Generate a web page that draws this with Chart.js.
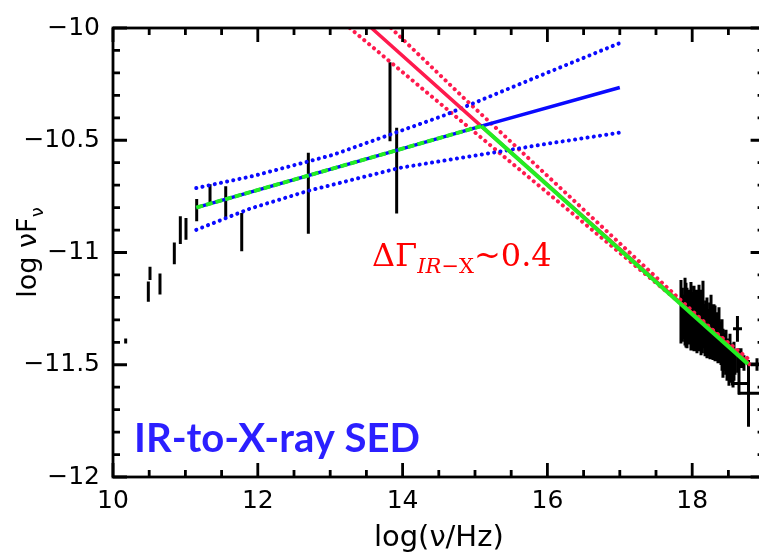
<!DOCTYPE html>
<html><head><meta charset="utf-8">
<script src="https://cdn.jsdelivr.net/npm/chart.js@4"></script>
<style>
html,body{margin:0;padding:0;background:#fff;overflow:hidden;}
#wrap{position:relative;width:770px;height:557px;}
</style></head>
<body><div id="wrap"><canvas id="c" width="770" height="557" style="width:770px;height:557px"></canvas></div>
<script>
// ---- axis ticks ----
const xTickValues = [10, 12, 14, 16, 18];
const xTickLabels = ['10', '12', '14', '16', '18'];
const yTickValues = [-12, -11.5, -11, -10.5, -10];
const yTickLabels = ['\u221212', '\u221211.5', '\u221211', '\u221210.5', '\u221210'];
const xTitle = 'log(\u03BD/Hz)';
const yTitleMain = 'log \u03BDF';
const yTitleSub = '\u03BD';

// ---- IR / optical photometry (vertical error bars) ----
const irX  = [10.175, 10.488, 10.511, 10.649, 10.847, 10.930, 11.008, 11.156, 11.340, 11.557, 11.778, 12.698, 13.826, 13.918];
const irLo = [-11.405, -11.219, -11.122, -11.187, -11.052, -10.962, -10.943, -10.861, -10.781, -10.842, -10.994, -10.917, -10.505, -10.826];
const irHi = [-11.383, -11.129, -11.064, -11.093, -10.955, -10.839, -10.846, -10.762, -10.696, -10.705, -10.824, -10.556, -10.153, -10.444];

// ---- X-ray spectrum (vertical error bars) ----
const xrX  = [17.845, 17.859, 17.873, 17.901, 17.914, 17.928, 17.956, 17.969, 17.983, 18.011,
              18.025, 18.039, 18.066, 18.080, 18.094, 18.122, 18.135, 18.149, 18.177, 18.191,
              18.204, 18.232, 18.246, 18.260, 18.287, 18.301, 18.315, 18.343, 18.356, 18.370,
              18.398, 18.412, 18.425, 18.453, 18.467, 18.481, 18.508, 18.522, 18.536, 18.564,
              18.577, 18.591, 18.633, 18.674, 18.715,
              18.560, 18.625, 18.646, 18.778, 18.895];
const xrLo = [-11.405, -11.397, -11.383, -11.414, -11.423, -11.427, -11.397, -11.410, -11.436, -11.431,
              -11.440, -11.414, -11.449, -11.431, -11.440, -11.458, -11.449, -11.427, -11.462, -11.458,
              -11.471, -11.458, -11.475, -11.475, -11.479, -11.466, -11.484, -11.471, -11.493, -11.493,
              -11.501, -11.527, -11.558, -11.527, -11.545, -11.571, -11.593, -11.580, -11.566, -11.601,
              -11.571, -11.545, -11.536, -11.514, -11.527,
              -11.594, -11.397, -11.632, -11.776, -11.527];
const xrHi = [-11.122, -11.157, -11.188, -11.113, -11.135, -11.157, -11.210, -11.166, -11.131, -11.179,
              -11.148, -11.231, -11.166, -11.188, -11.144, -11.201, -11.166, -11.126, -11.231, -11.214,
              -11.201, -11.253, -11.223, -11.188, -11.244, -11.231, -11.236, -11.275, -11.266, -11.244,
              -11.309, -11.297, -11.340, -11.362, -11.344, -11.392, -11.383, -11.362, -11.427, -11.405,
              -11.397, -11.449, -11.427, -11.427, -11.458,
              -11.522, -11.283, -11.493, -11.479, -11.471];
// ---- X-ray bins with horizontal error bars ----
const xrhY  = [-11.340, -11.584, -11.627, -11.497];
const xrhLo = [18.564, 18.536, 18.633, 18.757];
const xrhHi = [18.688, 18.771, 19.070, 19.070];

// ---- model lines ----
const blueFitX = [11.15, 15.086, 17.0];
const blueFitY = [-10.80, -10.437, -10.265];
const blueUpX  = [11.15, 11.94, 13.04, 14.56, 16.03, 17.0];
const blueUpY  = [-10.713, -10.659, -10.565, -10.391, -10.195, -10.067];
const blueLoX  = [11.15, 11.89, 12.70, 13.96, 16.03, 17.0];
const blueLoY  = [-10.899, -10.805, -10.725, -10.623, -10.514, -10.466];
const redFitX  = [13.57, 15.086, 18.77];
const redFitY  = [-10.0, -10.437, -11.49];
const redLeftX = [13.27, 14.42, 18.30, 18.80];
const redLeftY = [-10.0, -10.31, -11.35, -11.48];
const redRightX = [13.84, 14.84, 18.30, 18.80];
const redRightY = [-10.0, -10.31, -11.35, -11.50];
const greenX = [11.15, 15.086, 18.77];
const greenY = [-10.80, -10.437, -11.497];

// ---- helpers ----
const pts = (xs, ys) => xs.map((x, i) => ({x: x, y: ys[i]}));
function vBars(xs, lo, hi) {
  const out = [];
  xs.forEach((x, i) => { out.push({x: x, y: lo[i]}, {x: x, y: hi[i]}, {x: x, y: null}); });
  return out;
}
function hBars(ys, lo, hi) {
  const out = [];
  ys.forEach((y, i) => { out.push({x: lo[i], y: y}, {x: hi[i], y: y}, {x: hi[i], y: null}); });
  return out;
}

const RED = '#ff1a4d', BLUE = '#0a0aff', GREEN = '#22ee22';
const dotted = {borderWidth: 4, borderDash: [0.1, 6.2], borderCapStyle: 'round'};
const base = {pointRadius: 0, tension: 0, clip: 0, spanGaps: false, fill: false};

const datasets = [
  Object.assign({}, base, {label: 'green', data: pts(greenX, greenY), borderColor: GREEN, borderWidth: 4,
    segment: {borderDash: c => c.p0DataIndex === 0 ? [7, 3] : undefined}, order: 0}),
  Object.assign({}, base, {label: 'blue fit', data: pts(blueFitX, blueFitY), borderColor: BLUE, borderWidth: 3.5, order: 1}),
  Object.assign({}, base, {label: 'red fit', data: pts(redFitX, redFitY), borderColor: RED, borderWidth: 3.5, order: 1}),
  Object.assign({}, base, dotted, {label: 'blue up', data: pts(blueUpX, blueUpY), borderColor: BLUE, order: 2}),
  Object.assign({}, base, dotted, {label: 'blue lo', data: pts(blueLoX, blueLoY), borderColor: BLUE, order: 2}),
  Object.assign({}, base, dotted, {label: 'red left', data: pts(redLeftX, redLeftY), borderColor: RED, order: 2}),
  Object.assign({}, base, dotted, {label: 'red right', data: pts(redRightX, redRightY), borderColor: RED, order: 2}),
  Object.assign({}, base, {label: 'IR', data: vBars(irX, irLo, irHi), borderColor: '#000', borderWidth: 3, order: 3}),
  Object.assign({}, base, {label: 'X-ray', data: vBars(xrX, xrLo, xrHi), borderColor: '#000', borderWidth: 3, order: 3}),
  Object.assign({}, base, {label: 'X-ray bins', data: hBars(xrhY, xrhLo, xrhHi), borderColor: '#000', borderWidth: 3, order: 3})
];

const framePlugin = {
  id: 'frame',
  afterDraw(chart) {
    const ctx = chart.ctx, a = chart.chartArea, x = chart.scales.x, y = chart.scales.y;
    ctx.save();
    ctx.strokeStyle = '#000';
    ctx.lineWidth = 2.8;
    ctx.lineCap = 'butt';
    ctx.beginPath();
    for (let k = 0; k <= 18; k++) {
      const v = x.min + k * 0.5;
      const px = x.getPixelForValue(v);
      const len = (k % 4 === 0) ? 14 : 7;
      ctx.moveTo(px, a.bottom); ctx.lineTo(px, a.bottom - len);
      ctx.moveTo(px, a.top); ctx.lineTo(px, a.top + len);
    }
    for (let k = 0; k <= 20; k++) {
      const v = y.min + k * 0.1;
      const py = y.getPixelForValue(v);
      const len = (k % 5 === 0) ? 14 : 7;
      ctx.moveTo(a.left, py); ctx.lineTo(a.left + len, py);
      ctx.moveTo(a.right, py); ctx.lineTo(a.right - len, py);
    }
    ctx.stroke();
    ctx.strokeRect(a.left, a.top, a.right - a.left, a.bottom - a.top);
    ctx.restore();

    // y title with subscript
    ctx.save();
    ctx.fillStyle = '#000';
    ctx.translate(36, (a.top + a.bottom) / 2);
    ctx.rotate(-Math.PI / 2);
    const f1 = '27px "DejaVu Sans"', f2 = '18px "DejaVu Sans"';
    ctx.font = f1; const w1 = ctx.measureText(yTitleMain).width;
    ctx.font = f2; const w2 = ctx.measureText(yTitleSub).width;
    const sx = -(w1 + w2) / 2;
    ctx.textAlign = 'left'; ctx.textBaseline = 'alphabetic';
    ctx.font = f1; ctx.fillText(yTitleMain, sx, 0);
    ctx.font = f2; ctx.fillText(yTitleSub, sx + w1, 7);
    ctx.restore();

    // x title
    ctx.save();
    ctx.fillStyle = '#000';
    ctx.font = '29px "DejaVu Sans"';
    ctx.textAlign = 'center'; ctx.textBaseline = 'alphabetic';
    ctx.fillText(xTitle, (a.left + a.right) / 2, 546);
    ctx.restore();

    // red annotation
    ctx.save();
    ctx.fillStyle = '#ff0000';
    ctx.textAlign = 'left'; ctx.textBaseline = 'alphabetic';
    let cx = 372;
    ctx.font = '32px "DejaVu Serif"';
    ctx.fillText('\u0394\u0393', cx, 266); cx += ctx.measureText('\u0394\u0393').width;
    ctx.font = 'italic 21px "DejaVu Serif"';
    ctx.fillText('IR', cx, 273); cx += ctx.measureText('IR').width;
    ctx.font = '21px "DejaVu Serif"';
    ctx.fillText('\u2212X', cx, 273); cx += ctx.measureText('\u2212X').width;
    ctx.font = '32px "DejaVu Serif"';
    ctx.fillText('~0.4', cx, 266);
    ctx.restore();

    // blue label
    ctx.save();
    ctx.fillStyle = '#2b1fff';
    ctx.font = 'bold 40px Lato';
    ctx.textAlign = 'left'; ctx.textBaseline = 'alphabetic';
    const t = 'IR-to-X-ray SED';
    const tw = ctx.measureText(t).width;
    const sc = Math.min(1.1, Math.max(0.9, 286 / tw));
    ctx.translate(134, 452);
    ctx.scale(sc, 1);
    ctx.fillText(t, 0, 0);
    ctx.restore();
  }
};

new Chart(document.getElementById('c'), {
  type: 'line',
  data: {datasets: datasets},
  options: {
    responsive: false,
    animation: false,
    events: [],
    layout: {padding: {top: 17.5, right: 5.4, left: 0, bottom: 0}},
    plugins: {legend: {display: false}, tooltip: {enabled: false}},
    scales: {
      x: {
        type: 'linear', min: 10, max: 19,
        grid: {display: false, drawTicks: false},
        border: {display: false},
        afterBuildTicks: s => { s.ticks = xTickValues.map(v => ({value: v})); },
        afterFit: s => { s.height = 80; },
        ticks: {
          padding: 9, color: '#000', maxRotation: 0, autoSkip: false,
          font: {family: 'DejaVu Sans', size: 25},
          callback: v => { const i = xTickValues.indexOf(v); return i >= 0 ? xTickLabels[i] : ''; }
        }
      },
      y: {
        type: 'linear', min: -12, max: -10,
        grid: {display: false, drawTicks: false},
        border: {display: false},
        afterBuildTicks: s => { s.ticks = yTickValues.map(v => ({value: v})); },
        afterFit: s => { s.width = 113; },
        ticks: {
          padding: 13, color: '#000', autoSkip: false,
          font: {family: 'DejaVu Sans', size: 25},
          callback: v => { const i = yTickValues.indexOf(v); return i >= 0 ? yTickLabels[i] : ''; }
        }
      }
    }
  },
  plugins: [framePlugin]
});
</script>
</body></html>
